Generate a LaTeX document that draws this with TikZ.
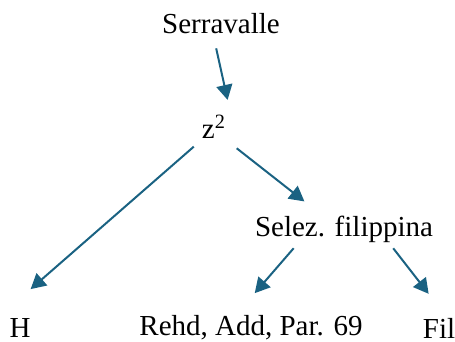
\documentclass[tikz,border=0pt]{standalone}
\usepackage{fontspec}
\setmainfont{Liberation Serif}
\usetikzlibrary{arrows.meta}
\definecolor{linkblue}{HTML}{1A6282}

\begin{document}
\begin{tikzpicture}[x=0.5pt, y=-0.5pt,
        font=\fontsize{14.5}{17}\selectfont,
        label/.style={inner sep=2pt},
        link/.style={draw=linkblue, line width=1pt, -{Triangle[length=7.5pt, width=8pt]}}]
        \useasboundingbox (0,0) rectangle (455,342);

        % Draw nodes
        \node[label] (serra) at (221, 24) {Serravalle};
        \node[label] (z2) at (214, 127) {z\textsuperscript{2}};
        \node[label] (selez) at (344, 229) {Selez. filippina};
        \node[label] (h) at (20, 328) {H};
        \node[label] (rehd) at (251, 328) {Rehd, Add, Par. 69};
        \node[label] (fil) at (439, 328) {Fil};

        % Draw arrows
        \draw[link, shorten <=5pt, shorten >=5.5pt] ([xshift=-3.5pt]serra.south) -- ([xshift=8pt]z2.north);
        \draw[link, shorten <=2.5pt, shorten >=19pt] (z2.south west) -- ([xshift=-9pt]h.north);
        \draw[link, shorten <=4pt, shorten >=8pt] (z2.south east) -- ([xshift=-13.5pt]selez.north);
        \draw[link, shorten <=1pt, shorten >=12pt] ([xshift=-24.5pt]selez.south) -- ([xshift=-6pt]rehd.north);
        \draw[link, shorten <=1pt, shorten >=12.5pt] ([xshift=24pt]selez.south) -- ([xshift=2.5pt]fil.north);
\end{tikzpicture}
\end{document}
